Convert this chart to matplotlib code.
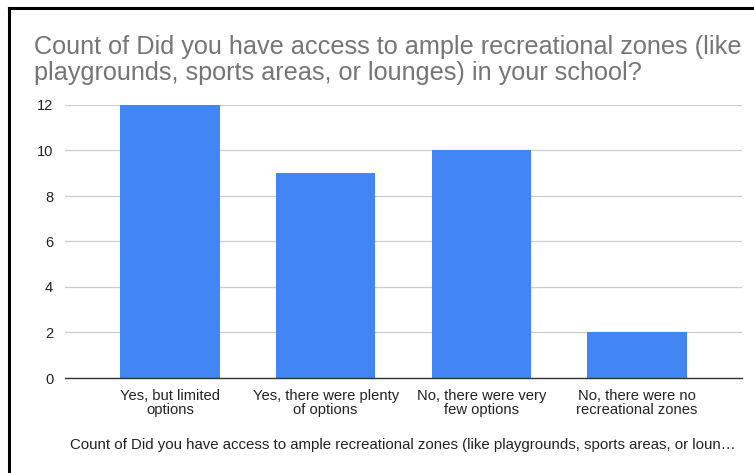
import matplotlib
matplotlib.use("Agg")
import matplotlib.pyplot as plt
from matplotlib.lines import Line2D

plt.rcParams['font.family'] = ['Liberation Sans', 'DejaVu Sans']

categories = [
    "Yes, but limited\noptions",
    "Yes, there were plenty\nof options",
    "No, there were very\nfew options",
    "No, there were no\nrecreational zones",
]
counts = [12, 9, 10, 2]
y_ticks = [0, 2, 4, 6, 8, 10, 12]

title = ("Count of Did you have access to ample recreational zones (like\n"
         "playgrounds, sports areas, or lounges) in your school?")
x_title = ("Count of Did you have access to ample recreational zones "
           "(like playgrounds, sports areas, or loun\u2026")

W, H = 754, 473
fig = plt.figure(figsize=(W / 100, H / 100), dpi=100)
ax = fig.add_axes([65 / W, 1 - 378 / H, (742 - 65) / W, (378 - 105) / H])

xs = list(range(len(categories)))
ax.bar(xs, counts, width=0.64, color="#4285F4", zorder=3)

ax.set_xlim(-0.674, len(categories) - 1 + 0.674)
ax.set_ylim(0, 12)
ax.set_yticks(y_ticks)
ax.set_yticklabels([str(v) for v in y_ticks], fontsize=10.5, color="#222222")
ax.set_xticks(xs)
ax.set_xticklabels(categories, fontsize=10.6, color="#222222", linespacing=1.0)
ax.tick_params(axis="both", length=0)
ax.tick_params(axis="y", pad=8.5)
ax.tick_params(axis="x", pad=8)

ax.grid(axis="y", color="#cccccc", linewidth=0.9, zorder=0)
for s in ["top", "right", "left"]:
    ax.spines[s].set_visible(False)
ax.spines["bottom"].set_color("#333333")
ax.spines["bottom"].set_linewidth(1.0)
ax.spines["bottom"].set_zorder(4)

fig.text(34 / W, 1 - 80 / H, title, fontsize=18.2, color="#757575",
         ha="left", va="baseline", linespacing=1.08)
fig.text(403 / W, 1 - 449 / H, x_title, fontsize=10.8, color="#222222",
         ha="center", va="baseline")

# outer frame on the top and left edges
fig.add_artist(Line2D([8.5 / W, 8.5 / W], [0, 1 - 8.5 / H],
                      transform=fig.transFigure, color="black", linewidth=2.2))
fig.add_artist(Line2D([8.5 / W, 1], [1 - 8.5 / H, 1 - 8.5 / H],
                      transform=fig.transFigure, color="black", linewidth=2.2))

fig.savefig("out.png", dpi=100)
